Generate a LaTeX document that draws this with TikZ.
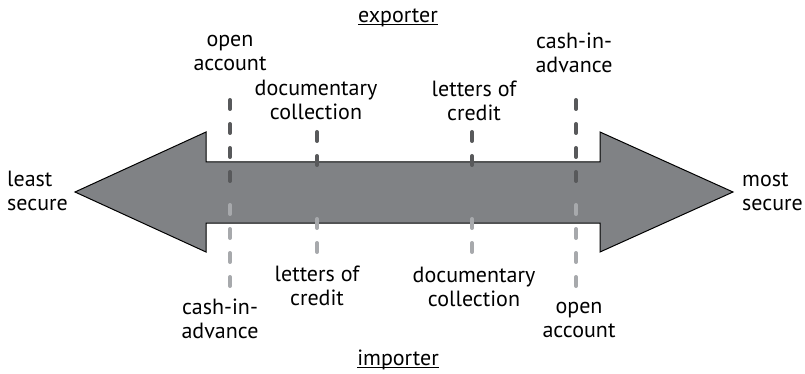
\documentclass[tikz,border=0pt]{standalone}
\usepackage{fontspec}
\setmainfont{PT Sans}
\definecolor{arrowgray}{RGB}{128,130,133}
\definecolor{darkdash}{RGB}{88,89,91}
\definecolor{lightdash}{RGB}{167,169,172}
\newcommand{\undl}[1]{\setbox0\hbox{#1}\rlap{\rule[-2.5pt]{\wd0}{1.1pt}}\box0}
\tikzset{
  lbl/.style={align=center,inner sep=0pt,font=\fontsize{22}{24.5}\selectfont},
  side/.style={lbl,align=left,anchor=west},
  expdash/.style={line width=4pt,color=darkdash,line cap=round,dash pattern=on 9pt off 15pt},
  impdash/.style={expdash,color=lightdash}
}
\begin{document}
\begin{tikzpicture}[x=1pt,y=-1pt,line join=miter]
\useasboundingbox (0,0) rectangle (805,374);
% double arrow
\draw [line width=1pt,fill=arrowgray] (75,192) -- (206,132) -- (206,162) -- (600,162) -- (600,132) -- (733,192)
  -- (600,252) -- (600,223) -- (206,223) -- (206,252) -- cycle;
% exporter side
\draw [expdash] (230,100) -- (230,182);
\draw [expdash] (317,132) -- (317,165);
\draw [expdash] (472,132) -- (472,165);
\draw [expdash] (576,100) -- (576,182);
% importer side
\draw [impdash] (230,205) -- (230,286);
\draw [impdash] (317,219) -- (317,252);
\draw [impdash] (472,219) -- (472,252);
\draw [impdash] (576,205) -- (576,286);
% labels
\node [lbl] (exporter) at (398,18) {\undl{exporter}};
\node [lbl] (importer) at (398,360) {\undl{importer}};
\node [side] (least) at (7,191) {least\\secure};
\node [side] (most) at (742,192) {most\\secure};
\node [lbl] (expopen) at (230,53) {open\\account};
\node [lbl] (expdoc) at (316,100) {documentary\\collection};
\node [lbl] (expcredit) at (474,101) {letters of\\credit};
\node [lbl] (expcash) at (574,53) {cash-in-\\advance};
\node [lbl] (impcash) at (220,319) {cash-in-\\advance};
\node [lbl] (impcredit) at (317,286) {letters of\\credit};
\node [lbl] (impdoc) at (474,287) {documentary\\collection};
\node [lbl] (impopen) at (579,320) {open\\account};
\end{tikzpicture}
\end{document}
